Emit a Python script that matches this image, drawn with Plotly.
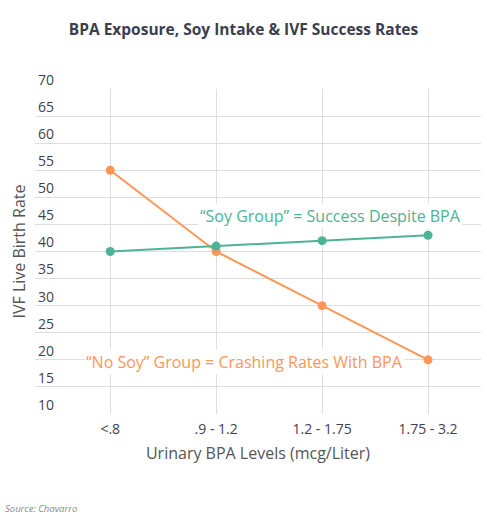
import plotly.graph_objects as go

categories = ["<.8", ".9 - 1.2", "1.2 - 1.75", "1.75 - 3.2"]
soy_group = [40, 41, 42, 43]
no_soy_group = [55, 40, 30, 20]
y_ticks = [10, 15, 20, 25, 30, 35, 40, 45, 50, 55, 60, 65, 70]

ORANGE = "#FF9655"
TEAL = "#4DB396"
FONT = "Open Sans"
GRID = "#dedede"

W, H = 487, 529
L, R, T, B = 35, 6, 89, 115
PW, PH = W - L - R, H - T - B

fig = go.Figure()
fig.add_trace(go.Scatter(x=categories, y=no_soy_group, mode="lines+markers",
                         line=dict(color=ORANGE, width=2), marker=dict(size=9, color=ORANGE),
                         name="No Soy"))
fig.add_trace(go.Scatter(x=categories, y=soy_group, mode="lines+markers",
                         line=dict(color=TEAL, width=2), marker=dict(size=9, color=TEAL),
                         name="Soy"))

fig.update_layout(
    width=W, height=H,
    margin=dict(l=L, r=R, t=T, b=B),
    paper_bgcolor="white", plot_bgcolor="white",
    showlegend=False,
    font=dict(family=FONT, color="#444"),
    title=dict(text="<b>BPA Exposure, Soy Intake & IVF Success Rates</b>",
               x=0.5, xanchor="center", y=1 - 30 / H, yanchor="middle",
               font=dict(size=15.5, color="#3b3e50", family=FONT)),
    xaxis=dict(type="category", range=[-0.71, 3.5], showgrid=True, gridcolor=GRID,
               tickfont=dict(size=14, color="#3f4150"), ticks="", zeroline=False, automargin=False,
               ticklabelstandoff=5,
               title=dict(text="Urinary BPA Levels (mcg/Liter)", font=dict(size=16, color="#555"),
                          standoff=10)),
    yaxis=dict(range=[10, 70], tickvals=y_ticks, showgrid=True, gridcolor=GRID,
               ticklabelposition="outside", ticklabelstandoff=-20, ticklabelshift=-9,
               tickfont=dict(size=14, color="#3f4150"), ticks="", zeroline=False, automargin=False,
               showline=False),
    annotations=[
        dict(text="IVF Live Birth Rate", x=(18 - L) / PW, y=0.5,
             xref="paper", yref="paper", xanchor="center", yanchor="middle",
             textangle=-90, showarrow=False,
             font=dict(size=16, color="#555", family=FONT)),
        dict(text="“Soy Group” = Success Despite BPA", x=2.08, y=46.6, xref="x", yref="y",
             showarrow=False, font=dict(size=16, color=TEAL, family=FONT), bgcolor="white"),
        dict(text="“No Soy” Group = Crashing Rates With BPA", x=1.27, y=19.6, xref="x", yref="y",
             showarrow=False, font=dict(size=16, color=ORANGE, family=FONT), bgcolor="white"),
        dict(text="<i>Source: Chavarro</i>", x=(3 - L) / PW, y=(T + PH - 508) / PH,
             xref="paper", yref="paper",
             xanchor="left", yanchor="middle", showarrow=False,
             font=dict(size=9.5, color="#888", family=FONT)),
    ],
)

fig.write_html("out.html", config={"displayModeBar": False},
               post_script="document.body.style.margin='0';")
